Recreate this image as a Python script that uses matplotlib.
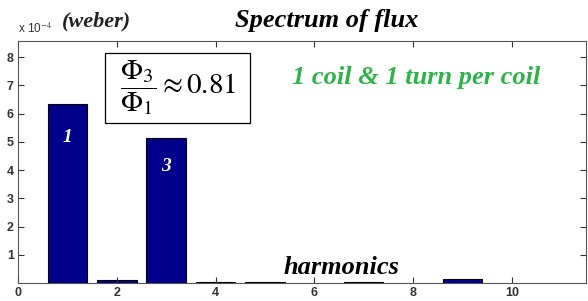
import matplotlib

matplotlib.use("Agg")
import matplotlib.pyplot as plt
from matplotlib.patches import Rectangle

harmonics = [1, 2, 3, 4, 5, 7, 9]
flux = [6.33e-4, 0.12e-4, 5.14e-4, 0.03e-4, 0.02e-4, 0.02e-4, 0.14e-4]
yticks = [1, 2, 3, 4, 5, 6, 7, 8]
xticks = [0, 2, 4, 6, 8, 10]

plt.rcParams["mathtext.fontset"] = "stix"

fig = plt.figure(figsize=(5.88, 3.01), dpi=100)
ax = fig.add_axes([18 / 588, 18 / 301, 568 / 588, 242 / 301])

ax.bar(harmonics, flux, width=0.8, color="#00008B", edgecolor="black", linewidth=0.8)
ax.set_xlim(0, 11.5)
ax.set_ylim(0, 8.57e-4)
ax.set_xticks(xticks)
ax.set_yticks([v * 1e-4 for v in yticks])
ax.set_yticklabels([str(v) for v in yticks])
ax.tick_params(direction="in", top=True, right=True, length=4, width=0.8,
               labelsize=9, colors="#333333", pad=3)
for lab in ax.get_xticklabels() + ax.get_yticklabels():
    lab.set_fontweight("bold")
    lab.set_family("Liberation Sans")
for s in ax.spines.values():
    s.set_color("#555555")
    s.set_linewidth(0.8)

serif = dict(family="Liberation Serif", style="italic", weight="bold")
fig.text(18 / 588, 1 - 33 / 301, r"x 10$^{-4}$", fontsize=8.5, color="#333333",
         family="Liberation Sans", ha="left", va="baseline")
fig.text(62 / 588, 1 - 26 / 301, "(weber)", fontsize=16, color="#222222",
         ha="left", va="baseline", **serif)
fig.text(327 / 588, 1 - 27 / 301, "Spectrum of flux", fontsize=19, color="black",
         ha="center", va="baseline", **serif)
fig.text(416 / 588, 1 - 84 / 301, "1 coil & 1 turn per coil", fontsize=19,
         color="#2DB34A", ha="center", va="baseline", **serif)
ax.text(6.55, 0.32e-4, "harmonics", fontsize=19, color="black", ha="center",
        va="baseline", **serif)
ax.text(1, 4.99e-4, "1", fontsize=14, color="white", ha="center", va="baseline", **serif)
ax.text(3, 3.96e-4, "3", fontsize=14, color="white", ha="center", va="baseline", **serif)

ax.add_patch(Rectangle((1.76, 5.66e-4), 2.94, 2.5e-4, facecolor="white",
                       edgecolor="black", linewidth=0.9, zorder=3))
ax.text(3.25, 6.92e-4, r"$\dfrac{\Phi_3}{\Phi_1}\approx0.81$", fontsize=21,
        ha="center", va="center", zorder=4)

fig.savefig("out.png", dpi=100)
